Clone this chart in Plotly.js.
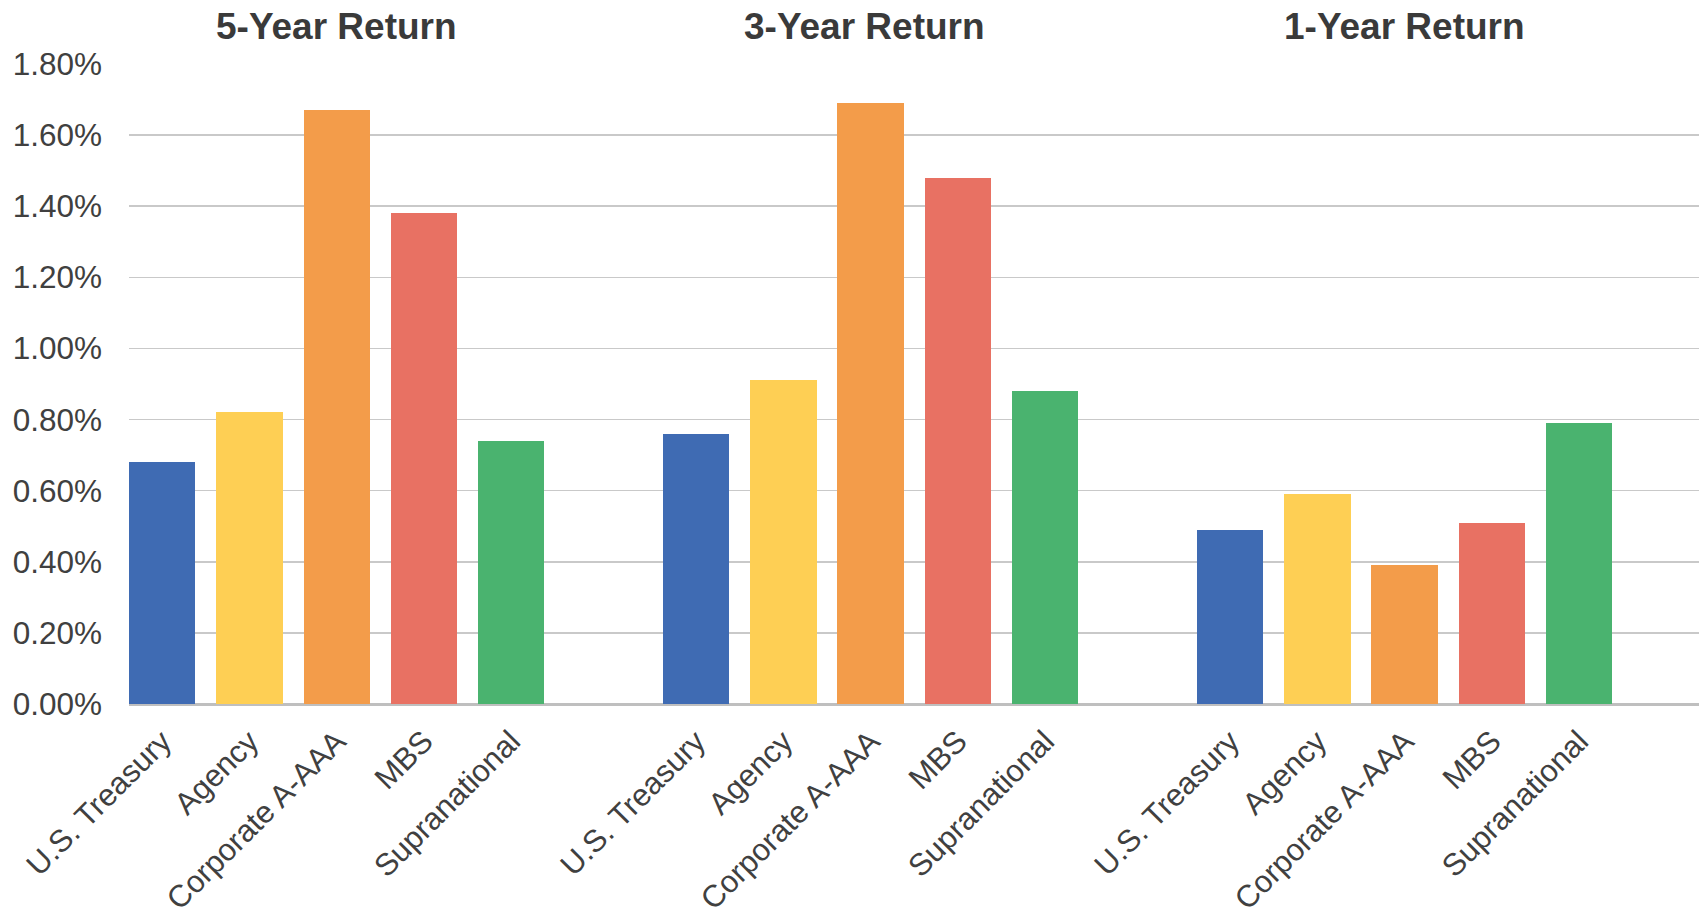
<!DOCTYPE html>
<html>
<head>
<meta charset="utf-8">
<script src="https://cdn.plot.ly/plotly-3.0.1.min.js"></script>
<style>
  html, body { margin: 0; padding: 0; background: #ffffff; }
  #chart { width: 1704px; height: 917px; }
</style>
</head>
<body>
<div id="chart"></div>
<script>
// Return periods, each drawn as its own group of bars
const periods = ['5-Year Return', '3-Year Return', '1-Year Return'];

// Sectors, in bar order within each group
const sectors = ['U.S. Treasury', 'Agency', 'Corporate A-AAA', 'MBS', 'Supranational'];

// Returns (%) per sector, ordered 5-year, 3-year, 1-year
const usTreasury    = [0.68, 0.76, 0.49];
const agency        = [0.82, 0.91, 0.59];
const corporateAAAA = [1.67, 1.69, 0.39];
const mbs           = [1.38, 1.48, 0.51];
const supranational = [0.74, 0.88, 0.79];

// Y axis ticks and their labels
const yTicks = [0, 0.2, 0.4, 0.6, 0.8, 1.0, 1.2, 1.4, 1.6, 1.8];
const yTickLabels = ['0.00%', '0.20%', '0.40%', '0.60%', '0.80%', '1.00%', '1.20%', '1.40%', '1.60%', '1.80%'];

const sectorValues = [usTreasury, agency, corporateAAAA, mbs, supranational];
const sectorColors = ['#3F6BB3', '#FECF54', '#F39C4A', '#E87163', '#4AB36F'];

// Groups sit a little more than six bar slots apart
const groupStep = 6.12;
const slot = (g, i) => g * groupStep + i;

const traces = sectors.map((name, i) => ({
  type: 'bar',
  name: name,
  x: periods.map((_, g) => slot(g, i)),
  y: sectorValues[i],
  width: 0.762,
  marker: { color: sectorColors[i], line: { width: 0 } },
  hoverinfo: 'skip',
  showlegend: false
}));

const tickvals = [];
const ticktext = [];
periods.forEach((_, g) => {
  sectors.forEach((s, i) => {
    tickvals.push(slot(g, i));
    ticktext.push(s);
  });
});

const annotations = periods.map((p, g) => ({
  text: p,
  x: slot(g, 2),
  xref: 'x',
  y: 1.059,
  yref: 'paper',
  xanchor: 'center',
  yanchor: 'middle',
  xshift: g === 1 ? -6 : 0,
  showarrow: false,
  font: { family: 'Liberation Sans, Arial, sans-serif', size: 37, color: '#3a3a3a', weight: 'bold' }
}));

const layout = {
  width: 1704,
  height: 917,
  margin: { l: 129, r: 5, t: 64, b: 213 },
  paper_bgcolor: '#ffffff',
  plot_bgcolor: '#ffffff',
  bargap: 0,
  font: { family: 'Liberation Sans, Arial, sans-serif', color: '#404040' },
  xaxis: {
    range: [-0.381, 17.613],
    tickmode: 'array',
    tickvals: tickvals,
    ticktext: ticktext,
    tickangle: -45,
    ticks: '',
    ticklabelstandoff: 12,
    showgrid: false,
    zeroline: false,
    showline: false,
    tickfont: { size: 31, color: '#404040' },
    fixedrange: true
  },
  yaxis: {
    range: [0, 1.8],
    tickmode: 'array',
    tickvals: yTicks,
    ticktext: yTickLabels,
    ticks: '',
    ticklabelstandoff: 26,
    showgrid: true,
    gridcolor: '#c9c9c9',
    gridwidth: 1.5,
    zeroline: true,
    zerolinecolor: '#bfbfbf',
    zerolinewidth: 3,
    showline: false,
    tickfont: { size: 31.5, color: '#404040' },
    fixedrange: true
  },
  annotations: annotations
};

Plotly.newPlot('chart', traces, layout, { displayModeBar: false, staticPlot: true });
</script>
</body>
</html>
